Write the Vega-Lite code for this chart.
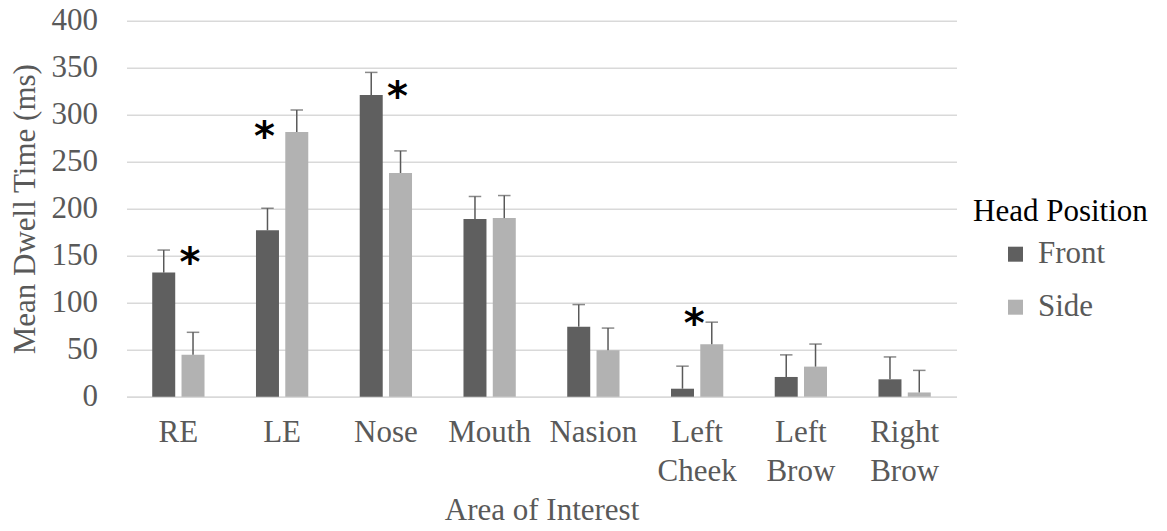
{
  "$schema": "https://vega.github.io/schema/vega-lite/v6.json",
  "autosize": {"type": "none"},
  "width": 830,
  "height": 376,
  "padding": {"left": 126.5, "top": 20.7, "right": 210.5, "bottom": 134.3},
  "background": "white",
  "config": {
    "view": {"stroke": null},
    "font": "Liberation Serif",
    "axis": {"labelFont": "Liberation Serif", "titleFont": "Liberation Serif", "labelFontSize": 31, "titleFontSize": 31, "labelColor": "#595959", "titleColor": "#595959", "titleFontWeight": "normal"},
    "legend": {"labelFont": "Liberation Serif", "titleFont": "Liberation Serif"}
  },
  "datasets": {
    "bars": [
      {"AOI": "RE", "group": "Front", "mean": 132, "upper": 156},
      {"AOI": "RE", "group": "Side", "mean": 44.5, "upper": 68.5},
      {"AOI": "LE", "group": "Front", "mean": 177, "upper": 200.5},
      {"AOI": "LE", "group": "Side", "mean": 281.5, "upper": 305},
      {"AOI": "Nose", "group": "Front", "mean": 321, "upper": 345},
      {"AOI": "Nose", "group": "Side", "mean": 238, "upper": 261.5},
      {"AOI": "Mouth", "group": "Front", "mean": 189, "upper": 213},
      {"AOI": "Mouth", "group": "Side", "mean": 190, "upper": 214},
      {"AOI": "Nasion", "group": "Front", "mean": 74.5, "upper": 98},
      {"AOI": "Nasion", "group": "Side", "mean": 49.5, "upper": 73},
      {"AOI": "Left Cheek", "group": "Front", "mean": 8.5, "upper": 32.5},
      {"AOI": "Left Cheek", "group": "Side", "mean": 55.7, "upper": 79.3},
      {"AOI": "Left Brow", "group": "Front", "mean": 21, "upper": 44.5},
      {"AOI": "Left Brow", "group": "Side", "mean": 32, "upper": 56},
      {"AOI": "Right Brow", "group": "Front", "mean": 18.5, "upper": 42.3},
      {"AOI": "Right Brow", "group": "Side", "mean": 4.5, "upper": 28}
    ],
    "stars": [
      {"AOI": "RE", "marker_at": "Side", "level": 150},
      {"AOI": "LE", "marker_at": "Front", "level": 284},
      {"AOI": "Nose", "marker_at": "Side", "level": 326},
      {"AOI": "Left Cheek", "marker_at": "Between", "level": 85}
    ]
  },
  "layer": [
    {
      "data": {"name": "bars"},
      "layer": [
        {
          "mark": {"type": "bar"},
          "encoding": {
            "x": {"field": "AOI", "type": "nominal", "sort": null,
              "scale": {"paddingInner": 0.496, "paddingOuter": 0.248},
              "axis": {"title": "Area of Interest", "labelAngle": 0, "ticks": false, "domainColor": "#d9d9d9", "domainWidth": 1.5, "labelPadding": 21, "labelLineHeight": 39, "titlePadding": 9, "labelExpr": "split(datum.label, ' ')"}},
            "xOffset": {"field": "group", "type": "nominal", "sort": ["Front", "Side"], "scale": {"paddingInner": 0.215, "paddingOuter": 0}},
            "y": {"field": "mean", "type": "quantitative",
              "scale": {"domain": [0, 400]},
              "axis": {"title": "Mean Dwell Time (ms)", "values": [0, 50, 100, 150, 200, 250, 300, 350, 400], "ticks": false, "domain": false, "gridColor": "#d9d9d9", "gridWidth": 1.5, "labelPadding": 29, "titlePadding": 10}},
            "color": {"field": "group", "type": "nominal",
              "scale": {"domain": ["Front", "Side"], "range": ["#5f5f5f", "#b2b2b2"]},
              "legend": {"title": "Head Position", "orient": "none", "legendX": 846.5, "legendY": 176, "padding": 0, "titleFontSize": 31, "titleColor": "#000000", "titleFontWeight": "normal", "titlePadding": 11, "labelFontSize": 31, "labelColor": "#595959", "symbolType": "square", "symbolSize": 225, "symbolStrokeWidth": 0, "symbolOffset": 27, "labelOffset": 7, "rowPadding": 21}}
          }
        },
        {
          "mark": {"type": "rule", "color": "#595959", "strokeWidth": 1.5},
          "encoding": {
            "x": {"field": "AOI", "type": "nominal", "sort": null},
            "xOffset": {"field": "group", "type": "nominal", "sort": ["Front", "Side"]},
            "y": {"field": "mean", "type": "quantitative"},
            "y2": {"field": "upper"}
          }
        },
        {
          "mark": {"type": "tick", "color": "#595959", "thickness": 1.5, "size": 12.5},
          "encoding": {
            "x": {"field": "AOI", "type": "nominal", "sort": null},
            "xOffset": {"field": "group", "type": "nominal", "sort": ["Front", "Side"]},
            "y": {"field": "upper", "type": "quantitative"}
          }
        }
      ]
    },
    {
      "data": {"name": "stars"},
      "mark": {"type": "text", "text": "*", "font": "DejaVu Sans", "fontWeight": "bold", "fontSize": 40, "color": "#000000", "baseline": "middle", "dx": -3, "dy": 8},
      "encoding": {
        "x": {"field": "AOI", "type": "nominal", "sort": null},
        "xOffset": {"field": "marker_at", "type": "nominal", "scale": {"type": "point", "domain": ["Front", "Between", "Side"], "padding": 0.787}},
        "y": {"field": "level", "type": "quantitative"}
      }
    }
  ],
  "resolve": {"scale": {"xOffset": "independent"}}
}
